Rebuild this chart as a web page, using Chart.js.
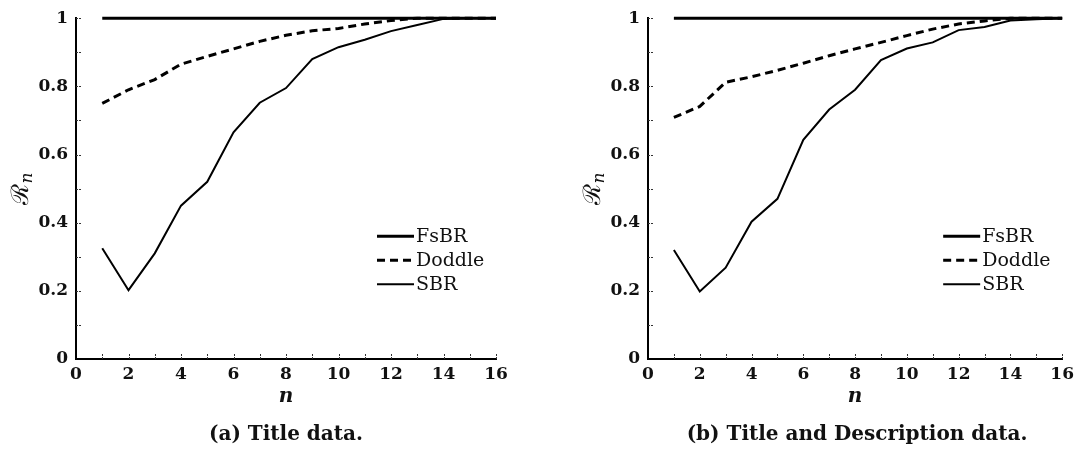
<!DOCTYPE html>
<html>
<head>
<meta charset="utf-8">
<script src="https://cdn.jsdelivr.net/npm/chart.js@4.4.1/dist/chart.umd.min.js"></script>
<style>
  html, body { margin: 0; padding: 0; background: #ffffff; }
  body { width: 1079px; height: 449px; position: relative; overflow: hidden; }
  .wrap { position: absolute; top: 0; }
  .cap { position: absolute; top: 419px; font-family: "DejaVu Serif", serif; font-size: 20px; font-weight: bold; color: #111; white-space: nowrap; line-height: 28px; text-align: center; width: 500px; }
</style>
</head>
<body>
<div class="wrap" style="left:0px;width:540px;height:449px;"><canvas id="chartA" width="540" height="449"></canvas></div>
<div class="wrap" style="left:572px;width:507px;height:449px;"><canvas id="chartB" width="507" height="449"></canvas></div>
<div class="cap" id="capA" style="left:36px;"></div>
<div class="cap" id="capB" style="left:607px;"></div>
<script>
// ---- data ----
const nValues = [1, 2, 3, 4, 5, 6, 7, 8, 9, 10, 11, 12, 13, 14, 15, 16];
const seriesNames = ['FsBR', 'Doddle', 'SBR'];

// (a) Title data
const fsbrA   = [1, 1, 1, 1, 1, 1, 1, 1, 1, 1, 1, 1, 1, 1, 1, 1];
const doddleA = [0.75, 0.79, 0.82, 0.865, 0.888, 0.91, 0.932, 0.95, 0.963, 0.97, 0.983, 0.993, 1.0, 1.0, 1.0, 1.0];
const sbrA    = [0.325, 0.202, 0.31, 0.45, 0.52, 0.665, 0.752, 0.795, 0.88, 0.915, 0.937, 0.962, 0.98, 0.998, 1.0, 1.0];

// (b) Title and Description data
const fsbrB   = [1, 1, 1, 1, 1, 1, 1, 1, 1, 1, 1, 1, 1, 1, 1, 1];
const doddleB = [0.709, 0.741, 0.812, 0.828, 0.847, 0.868, 0.89, 0.91, 0.929, 0.949, 0.968, 0.983, 0.992, 1.0, 1.0, 1.0];
const sbrB    = [0.32, 0.198, 0.268, 0.403, 0.47, 0.643, 0.732, 0.79, 0.877, 0.911, 0.929, 0.965, 0.974, 0.993, 0.997, 1.0];

const xTickLabels = ['0', '2', '4', '6', '8', '10', '12', '14', '16'];
const yTickLabels = ['0', '0.2', '0.4', '0.6', '0.8', '1'];
const xMinorTicks = [1, 2, 3, 4, 5, 6, 7, 8, 9, 10, 11, 12, 13, 14, 15, 16];
const yMinorTicks = [0.1, 0.2, 0.3, 0.4, 0.5, 0.6, 0.7, 0.8, 0.9, 1.0];
const xTitle = 'n';
const yTitleMain = 'ℛ';
const yTitleSub = 'n';
const captionA = '(a) Title data.';
const captionB = '(b) Title and Description data.';

document.getElementById('capA').textContent = captionA;
document.getElementById('capB').textContent = captionB;

const SERIF = '"DejaVu Serif", "Liberation Serif", serif';

function toPoints(vals) { return nValues.map((n, i) => ({ x: n, y: vals[i] })); }

// inward ticks
const innerTicks = {
  id: 'innerTicks',
  afterDraw(chart) {
    const { ctx, chartArea, scales } = chart;
    ctx.save();
    ctx.strokeStyle = '#333';
    ctx.lineWidth = 1;
    ctx.setLineDash([2, 1]);
    xMinorTicks.forEach(v => {
      const px = Math.round(scales.x.getPixelForValue(v)) + 0.5;
      ctx.beginPath();
      ctx.moveTo(px, chartArea.bottom);
      ctx.lineTo(px, chartArea.bottom - 6);
      ctx.stroke();
    });
    yMinorTicks.forEach(v => {
      const py = Math.round(scales.y.getPixelForValue(v)) + 0.5;
      ctx.beginPath();
      ctx.moveTo(chartArea.left, py);
      ctx.lineTo(chartArea.left + 6, py);
      ctx.stroke();
    });
    ctx.restore();
  }
};

// y-axis title: script R with subscript n
const yTitlePlugin = {
  id: 'yTitlePlugin',
  afterDraw(chart) {
    const { ctx, chartArea } = chart;
    const cx = 21, cy = (chartArea.top + chartArea.bottom) / 2;
    ctx.save();
    ctx.translate(cx, cy);
    ctx.rotate(-Math.PI / 2);
    ctx.fillStyle = '#111';
    ctx.textBaseline = 'alphabetic';
    ctx.textAlign = 'left';
    const fMain = '24px ' + SERIF;
    const fSub = 'italic 17px ' + SERIF;
    ctx.font = fMain;
    const wMain = ctx.measureText(yTitleMain).width;
    ctx.font = fSub;
    const wSub = ctx.measureText(yTitleSub).width;
    const start = -(wMain + wSub) / 2;
    ctx.font = fMain;
    ctx.fillText(yTitleMain, start, 7);
    ctx.font = fSub;
    ctx.fillText(yTitleSub, start + wMain, 11);
    ctx.restore();
  }
};

// legend drawn inside plot
const innerLegend = {
  id: 'innerLegend',
  afterDraw(chart) {
    const { ctx, chartArea } = chart;
    const x0 = chartArea.right - 119, x1 = chartArea.right - 82, tx = chartArea.right - 80;
    ctx.save();
    chart.data.datasets.forEach((ds, i) => {
      const y = chartArea.top + 218 + i * 24;
      ctx.strokeStyle = '#000';
      ctx.lineWidth = ds.borderWidth;
      ctx.setLineDash(ds.borderDash || []);
      ctx.beginPath();
      ctx.moveTo(x0, y);
      ctx.lineTo(x1, y);
      ctx.stroke();
      ctx.setLineDash([]);
      ctx.fillStyle = '#111';
      ctx.font = '19px ' + SERIF;
      ctx.textAlign = 'left';
      ctx.textBaseline = 'middle';
      ctx.fillText(ds.label, tx, y + 1);
    });
    ctx.restore();
  }
};

function makeChart(id, fsbr, doddle, sbr, padRight) {
  return new Chart(document.getElementById(id), {
    type: 'line',
    data: {
      datasets: [
        { label: seriesNames[0], data: toPoints(fsbr), borderColor: '#000', borderWidth: 3, pointRadius: 0, tension: 0, clip: 6 },
        { label: seriesNames[1], data: toPoints(doddle), borderColor: '#000', borderWidth: 3, borderDash: [8, 5], pointRadius: 0, tension: 0, clip: 6 },
        { label: seriesNames[2], data: toPoints(sbr), borderColor: '#000', borderWidth: 2, pointRadius: 0, tension: 0, clip: 6 }
      ]
    },
    options: {
      responsive: false,
      animation: false,
      devicePixelRatio: 1,
      layout: { padding: { top: 14, right: padRight, left: 0, bottom: 0 } },
      plugins: { legend: { display: false }, tooltip: { enabled: false } },
      scales: {
        x: {
          type: 'linear', min: 0, max: 16,
          afterFit(s) { s.height = 90; },
          grid: { display: false, drawTicks: false },
          border: { display: true, color: '#000', width: 2 },
          ticks: {
            stepSize: 2, padding: 5, color: '#111', maxRotation: 0,
            font: { family: SERIF, size: 17, weight: 'bold' },
            callback: (v, i) => xTickLabels[i]
          },
          title: { display: true, text: xTitle, color: '#111', font: { family: SERIF, size: 20, style: 'italic', weight: 'bold' }, padding: { top: 0, bottom: 40 } }
        },
        y: {
          type: 'linear', min: 0, max: 1,
          afterFit(s) { s.width = 76; },
          grid: { display: false, drawTicks: false },
          border: { display: true, color: '#000', width: 2 },
          ticks: {
            stepSize: 0.2, padding: 8, color: '#111',
            font: { family: SERIF, size: 17, weight: 'bold' },
            callback: (v, i) => yTickLabels[i]
          },
          title: { display: false }
        }
      }
    },
    plugins: [innerTicks, innerLegend, yTitlePlugin]
  });
}

makeChart('chartA', fsbrA, doddleA, sbrA, 44);
makeChart('chartB', fsbrB, doddleB, sbrB, 12);
</script>
</body>
</html>
